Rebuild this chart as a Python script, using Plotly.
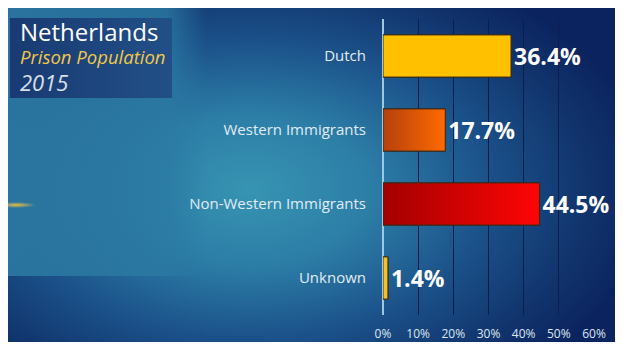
import base64
import plotly.graph_objects as go

# ---- data ----
categories = ["Dutch", "Western Immigrants", "Non-Western Immigrants", "Unknown"]
shares = [36.4, 17.7, 44.5, 1.4]
tick_values = [0, 10, 20, 30, 40, 50, 60]
tick_labels = ["0%", "10%", "20%", "30%", "40%", "50%", "60%"]
title_line1 = "Netherlands"
title_line2 = "Prison Population"
title_line3 = "2015"

# ---- styles ----
bar_start = ["#FFC000", "#B5400E", "#A30000", "#F2C22C"]
bar_end = ["#FFC000", "#FF6A00", "#FF0505", "#F2C22C"]
bar_half = 0.285

W, H = 623, 355
OFF = 8  # page body margin
# plot area in page pixels: x 383..594, y 19..315
L = 383 - OFF
T = 19 - OFF
R = W - (594 - OFF)
B = H - (315 - OFF)
PW, PH = W - L - R, H - T - B


def px(x):
    return (x - OFF - L) / PW


def py(y):
    return (H - B - (y - OFF)) / PH


pos = list(range(len(categories)))

svg = f"""<svg xmlns="http://www.w3.org/2000/svg" width="{W}" height="{H}" viewBox="0 0 {W} {H}">
<defs>
<radialGradient id="bg" gradientUnits="userSpaceOnUse" cx="250" cy="190" r="400"
 gradientTransform="translate(250 190) scale(1 0.62) translate(-250 -190)">
<stop offset="0" stop-color="#3794b2"/>
<stop offset="0.3" stop-color="#2c7ea7"/>
<stop offset="0.6" stop-color="#1b5189"/>
<stop offset="0.85" stop-color="#11336c"/>
<stop offset="1" stop-color="#0b2460"/>
</radialGradient>
<linearGradient id="panel" x1="0" x2="1" y1="0" y2="0">
<stop offset="0" stop-color="#2a76a0" stop-opacity="0.97"/>
<stop offset="0.8" stop-color="#2b7aa3" stop-opacity="0.8"/>
<stop offset="1" stop-color="#2b7aa3" stop-opacity="0"/>
</linearGradient>
<linearGradient id="tbox" x1="0" x2="1" y1="0" y2="0">
<stop offset="0" stop-color="#193a72"/>
<stop offset="1" stop-color="#224f87"/>
</linearGradient>
<radialGradient id="glow">
<stop offset="0" stop-color="#f0c040" stop-opacity="0.95"/>
<stop offset="1" stop-color="#f0c040" stop-opacity="0"/>
</radialGradient>
</defs>
<rect x="0" y="0" width="{W}" height="{H}" fill="#ffffff"/>
<rect x="7" y="7" width="611" height="335" fill="url(#bg)"/>
<rect x="6" y="6" width="200" height="270" fill="url(#panel)"/>
<rect x="10" y="18" width="162" height="80" fill="url(#tbox)"/>
<ellipse cx="16" cy="205" rx="20" ry="3" fill="url(#glow)"/>
</svg>"""
bg_src = "data:image/svg+xml;base64," + base64.b64encode(svg.encode()).decode()

fig = go.Figure()

fig.add_trace(go.Bar(
    x=shares, y=pos, orientation="h", width=2 * bar_half,
    marker=dict(color=bar_end, line=dict(color="#3b2a14", width=1)),
    texttemplate="%{x:.1f}%", textposition="outside", cliponaxis=False,
    textfont=dict(family="Open Sans", size=23, color="#ffffff", weight="bold"),
    hoverinfo="skip", showlegend=False,
))

for i, v in enumerate(shares):
    y0, y1 = pos[i] - bar_half, pos[i] + bar_half
    fig.add_trace(go.Scatter(
        x=[0, v, v, 0, 0], y=[y0, y0, y1, y1, y0], mode="lines",
        fill="toself",
        fillgradient=dict(type="horizontal",
                          colorscale=[[0, bar_start[i]], [1, bar_end[i]]]),
        line=dict(color="#3b2a14", width=1),
        hoverinfo="skip", showlegend=False,
    ))

fig.update_layout(
    width=W, height=H,
    margin=dict(l=L, r=R, t=T, b=B, pad=0),
    paper_bgcolor="#ffffff", plot_bgcolor="rgba(0,0,0,0)",
    xaxis=dict(range=[0, 60], tickvals=tick_values, ticktext=tick_labels,
               showgrid=True, gridcolor="#0a1f4c", gridwidth=1,
               zeroline=True, zerolinecolor="#9cc8e0", zerolinewidth=1.5,
               showline=False, ticks="", ticklabelstandoff=10,
               tickfont=dict(family="Open Sans", size=12, color="#dce6f0"),
               fixedrange=True),
    yaxis=dict(range=[3.5, -0.5], tickvals=pos, ticktext=categories,
               showgrid=False, zeroline=False, showline=False, ticks="",
               ticklabelstandoff=16,
               tickfont=dict(family="Open Sans", size=15, color="#e2ecf4"),
               fixedrange=True),
    images=[dict(source=bg_src, xref="paper", yref="paper",
                 x=px(0), y=py(0), sizex=W / PW, sizey=H / PH,
                 xanchor="left", yanchor="top", sizing="stretch",
                 layer="below")],
    annotations=[
        dict(text=title_line1, x=px(18), y=py(31), xref="paper", yref="paper",
             xanchor="left", yanchor="middle", showarrow=False,
             font=dict(family="Open Sans", size=24, color="#ffffff")),
        dict(text=f"<i>{title_line2}</i>", x=px(18), y=py(56), xref="paper", yref="paper",
             xanchor="left", yanchor="middle", showarrow=False,
             font=dict(family="Open Sans", size=18.5, color="#f0c84a")),
        dict(text=f"<i>{title_line3}</i>", x=px(18), y=py(82), xref="paper", yref="paper",
             xanchor="left", yanchor="middle", showarrow=False,
             font=dict(family="Open Sans", size=22, color="#d8e0ea")),
    ],
)

fig.write_html("out.html")
